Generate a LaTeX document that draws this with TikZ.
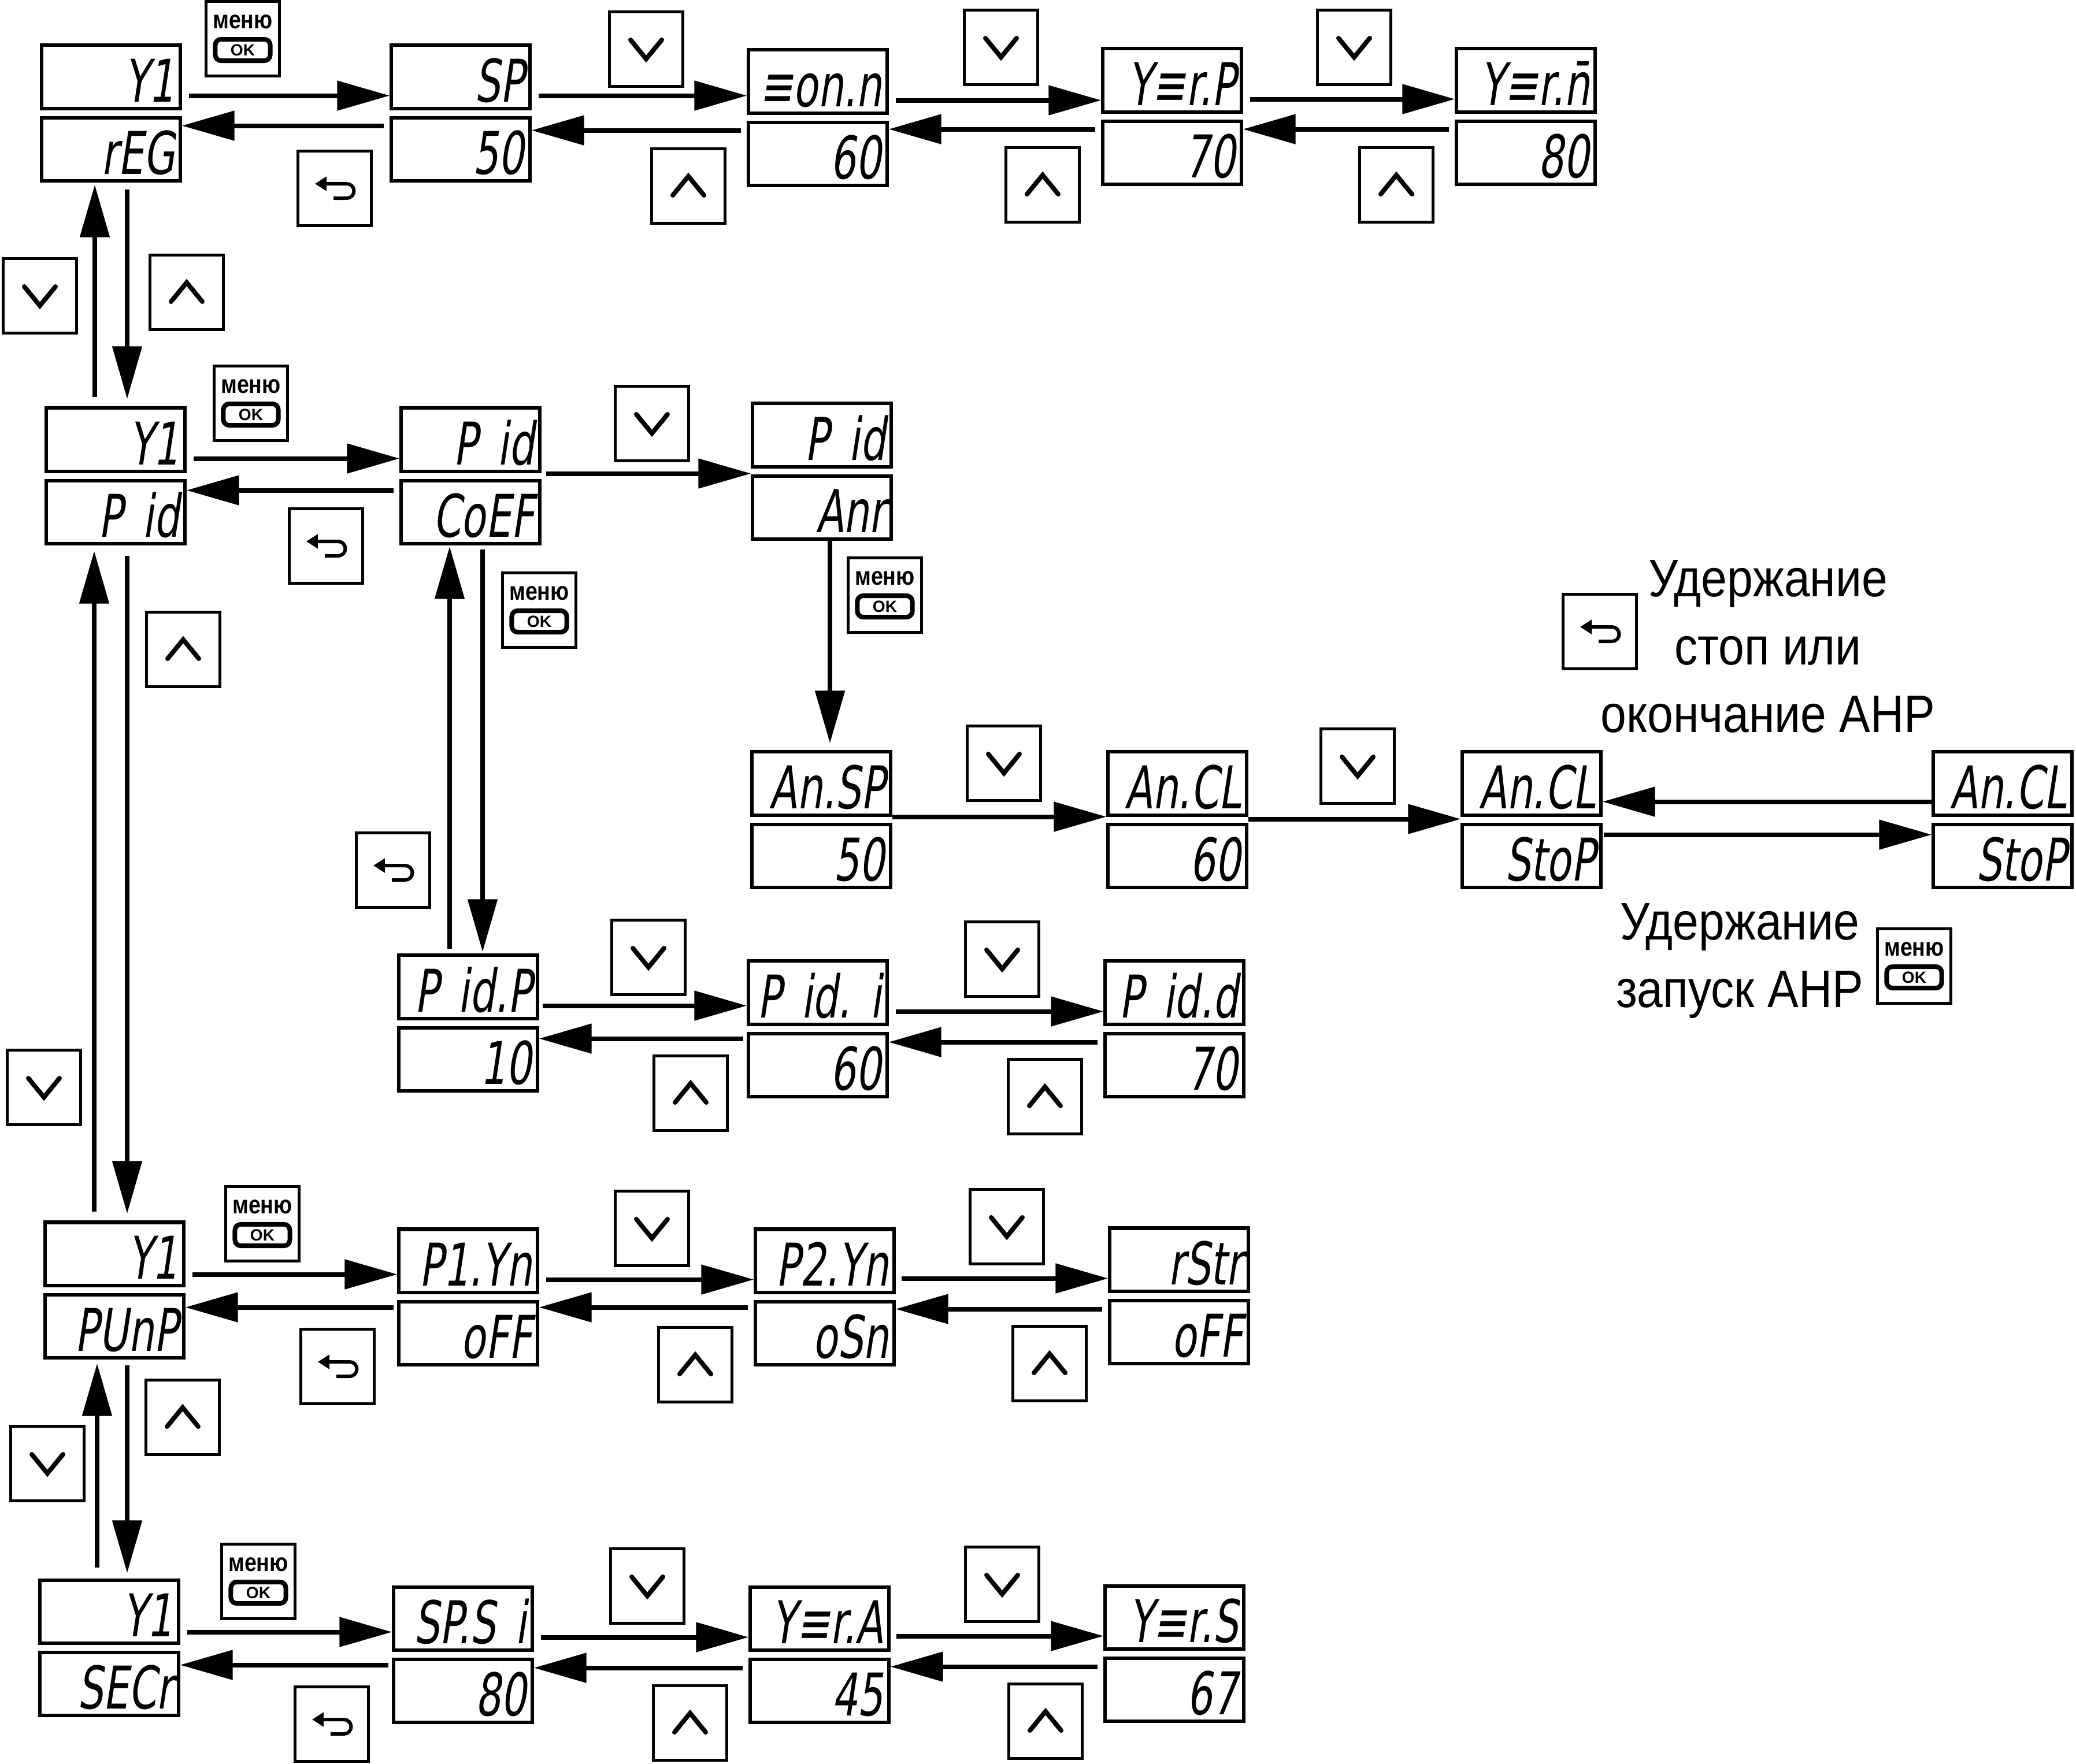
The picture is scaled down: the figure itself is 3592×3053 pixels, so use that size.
\documentclass[tikz,border=0pt]{standalone}
\usepackage{fontspec}
\usepackage{tikz}
\usetikzlibrary{arrows.meta}
\usetikzlibrary{positioning}
\newfontfamily\segfont[FakeStretch=0.68,FakeSlant=0.15]{DejaVu Sans}
\newfontfamily\narrowfont[FakeStretch=0.88]{Liberation Sans}
\newfontfamily\menufont[FakeStretch=0.85]{Liberation Sans}
\newfontfamily\okfont{Liberation Sans}

\begin{document}
\begin{tikzpicture}[x=0.01cm, y=-0.01cm]

  \tikzset{disp/.style = {draw, line width=0.06cm, text width=2.2cm, align=right, minimum height=1.09cm, inner xsep=0.095cm, inner ysep=0.05cm, text height=0.87cm, text depth=0cm, font=\segfont\fontsize{29}{30}\selectfont}}
  \tikzset{arr/.style = {-{Triangle[length=0.91cm,width=0.5cm]}, line width=0.08cm}}
  \tikzset{btn/.style = {draw, line width=0.045cm, minimum width=1.27cm, minimum height=1.29cm, inner sep=0pt}}
  \tikzset{dnbtn/.style = {btn, path picture={\draw[line width=0.08cm, line cap=round, shift={(path picture bounding box.center)}] (-0.27cm,0.16cm) -- (0cm,-0.17cm) -- (0.27cm,0.16cm);}}}
  \tikzset{upbtn/.style = {btn, path picture={\draw[line width=0.08cm, line cap=round, shift={(path picture bounding box.center)}] (-0.27cm,-0.16cm) -- (0cm,0.17cm) -- (0.27cm,-0.16cm);}}}
  \tikzset{bkbtn/.style = {btn, path picture={\draw[line width=0.06cm, -{Triangle[length=0.2cm,width=0.24cm]}, shift={(path picture bounding box.center)}] (-0.02cm,-0.17cm) -- (0.21cm,-0.17cm) arc[start angle=-90, end angle=90, radius=0.125cm] -- (-0.34cm,0.08cm);}}}
  \tikzset{menutxt/.style = {inner sep=0pt, font=\menufont\bfseries\fontsize{12.6}{13}\selectfont}}
  \tikzset{okpill/.style = {draw, line width=0.08cm, rounded corners=0.1cm, minimum width=0.95cm, minimum height=0.37cm, inner sep=0pt, font=\okfont\bfseries\fontsize{8}{9}\selectfont}}
  \tikzset{capt/.style = {align=center, inner sep=0pt, font=\narrowfont\fontsize{26}{33.3}\selectfont}}

  \useasboundingbox (0,0) rectangle (3592,3053);

  % displays, row 1
  \node[disp] (a1t) at (192,133) {Y1};
  \node[disp, below=0.1cm of a1t] (a1b) {rEG};
  \node[disp] (a2t) at (797,133) {SP};
  \node[disp, below=0.1cm of a2t] (a2b) {50};
  \node[disp] (a3t) at (1415,141) {≡on.n};
  \node[disp, below=0.1cm of a3t] (a3b) {60};
  \node[disp] (a4t) at (2028,139) {Y≡r.P};
  \node[disp, below=0.1cm of a4t] (a4b) {70};
  \node[disp] (a5t) at (2640,139) {Y≡r.n̄};
  \node[disp, below=0.1cm of a5t] (a5b) {80};

  % displays, row 2
  \node[disp] (b1t) at (200,761) {Y1};
  \node[disp, below=0.1cm of b1t] (b1b) {P~id};
  \node[disp] (b2t) at (814,761) {P~id};
  \node[disp, below=0.1cm of b2t] (b2b) {CoEF};
  \node[disp] (b3t) at (1422,753) {P~id};
  \node[disp, below=0.1cm of b3t] (b3b) {Anr};

  % displays, autotuning
  \node[disp] (c1t) at (1421,1356) {An.SP};
  \node[disp, below=0.1cm of c1t] (c1b) {50};
  \node[disp] (c2t) at (2037,1356) {An.CL};
  \node[disp, below=0.1cm of c2t] (c2b) {60};
  \node[disp] (c3t) at (2650,1356) {An.CL};
  \node[disp, below=0.1cm of c3t] (c3b) {StoP};
  \node[disp] (c4t) at (3465,1356) {An.CL};
  \node[disp, below=0.1cm of c4t] (c4b) {StoP};

  % displays, coefficients
  \node[disp] (d1t) at (810,1708) {P~id.P};
  \node[disp, below=0.1cm of d1t] (d1b) {10};
  \node[disp] (d2t) at (1415,1718) {P~id.~i};
  \node[disp, below=0.1cm of d2t] (d2b) {60};
  \node[disp] (d3t) at (2032,1718) {P~id.d};
  \node[disp, below=0.1cm of d3t] (d3b) {70};

  % displays, pump
  \node[disp] (e1t) at (198,2170) {Y1};
  \node[disp, below=0.1cm of e1t] (e1b) {PUnP};
  \node[disp] (e2t) at (810,2182) {P1.Yn};
  \node[disp, below=0.1cm of e2t] (e2b) {oFF};
  \node[disp] (e3t) at (1427,2182) {P2.Yn};
  \node[disp, below=0.1cm of e3t] (e3b) {oSn};
  \node[disp] (e4t) at (2040,2180) {rStr};
  \node[disp, below=0.1cm of e4t] (e4b) {oFF};

  % displays, security
  \node[disp] (f1t) at (189,2789) {Y1};
  \node[disp, below=0.1cm of f1t] (f1b) {SECr};
  \node[disp] (f2t) at (801,2801) {SP.S~i};
  \node[disp, below=0.1cm of f2t] (f2b) {80};
  \node[disp] (f3t) at (1418,2801) {Y≡r.A};
  \node[disp, below=0.1cm of f3t] (f3b) {45};
  \node[disp] (f4t) at (2032,2799) {Y≡r.S};
  \node[disp, below=0.1cm of f4t] (f4b) {67};

  % buttons
  \node[btn] (mA) at (420,67) {};
  \node[menutxt] (mAt) at ([yshift=0.295cm]mA.center) {меню};
  \node[okpill] (mAk) at ([yshift=-0.195cm]mA.center) {OK};
  \node[bkbtn] (kA) at (579,326) {};
  \node[dnbtn] (dA1) at (1118,85) {};
  \node[dnbtn] (dA2) at (1732,82) {};
  \node[dnbtn] (dA3) at (2343,82) {};
  \node[upbtn] (uA1) at (1191,322) {};
  \node[upbtn] (uA2) at (1804,320) {};
  \node[upbtn] (uA3) at (2416,320) {};

  \node[dnbtn] (dL1) at (69,512) {};
  \node[upbtn] (uL1) at (323,506) {};
  \node[upbtn] (uL2) at (317,1124) {};
  \node[dnbtn] (dL2) at (76,1882) {};
  \node[upbtn] (uL3) at (316,2453) {};
  \node[dnbtn] (dL3) at (82,2533) {};

  \node[btn] (mB) at (434,698) {};
  \node[menutxt] (mBt) at ([yshift=0.295cm]mB.center) {меню};
  \node[okpill] (mBk) at ([yshift=-0.195cm]mB.center) {OK};
  \node[bkbtn] (kB) at (564,945) {};
  \node[dnbtn] (dB1) at (1128,733) {};

  \node[bkbtn] (kM) at (680,1506) {};
  \node[btn] (mM) at (933,1056) {};
  \node[menutxt] (mMt) at ([yshift=0.295cm]mM.center) {меню};
  \node[okpill] (mMk) at ([yshift=-0.195cm]mM.center) {OK};
  \node[btn] (mN) at (1531,1030) {};
  \node[menutxt] (mNt) at ([yshift=0.295cm]mN.center) {меню};
  \node[okpill] (mNk) at ([yshift=-0.195cm]mN.center) {OK};

  \node[dnbtn] (dC1) at (1737,1321) {};
  \node[dnbtn] (dC2) at (2349,1326) {};
  \node[bkbtn] (kT) at (2768,1093) {};
  \node[btn] (mT) at (3312,1672) {};
  \node[menutxt] (mTt) at ([yshift=0.295cm]mT.center) {меню};
  \node[okpill] (mTk) at ([yshift=-0.195cm]mT.center) {OK};

  \node[dnbtn] (dD1) at (1122,1657) {};
  \node[dnbtn] (dD2) at (1734,1660) {};
  \node[upbtn] (uD1) at (1195,1892) {};
  \node[upbtn] (uD2) at (1808,1898) {};

  \node[btn] (mE) at (454,2118) {};
  \node[menutxt] (mEt) at ([yshift=0.295cm]mE.center) {меню};
  \node[okpill] (mEk) at ([yshift=-0.195cm]mE.center) {OK};
  \node[bkbtn] (kE) at (584,2365) {};
  \node[dnbtn] (dE1) at (1128,2126) {};
  \node[dnbtn] (dE2) at (1742,2123) {};
  \node[upbtn] (uE1) at (1203,2362) {};
  \node[upbtn] (uE2) at (1816,2360) {};

  \node[btn] (mF) at (447,2737) {};
  \node[menutxt] (mFt) at ([yshift=0.295cm]mF.center) {меню};
  \node[okpill] (mFk) at ([yshift=-0.195cm]mF.center) {OK};
  \node[bkbtn] (kF) at (574,2984) {};
  \node[dnbtn] (dF1) at (1120,2745) {};
  \node[dnbtn] (dF2) at (1734,2742) {};
  \node[upbtn] (uF1) at (1194,2982) {};
  \node[upbtn] (uF2) at (1809,2979) {};

  % captions
  \node[capt] (t1) at (3059,1119) {Удержание\\стоп или\\окончание АНР};
  \node[capt] (t2) at (3010,1663) {Удержание\\запуск АНР};

  % row 1 arrows
  \draw[arr] ([xshift=0.12cm,yshift=0.25cm]a1t.south east) coordinate (p) -- (a2t.west |- p);
  \draw[arr] ([xshift=0.12cm,yshift=0.25cm]a2t.south east) coordinate (p) -- (a3t.west |- p);
  \draw[arr] ([xshift=0.12cm,yshift=0.25cm]a3t.south east) coordinate (p) -- (a4t.west |- p);
  \draw[arr] ([xshift=0.12cm,yshift=0.25cm]a4t.south east) coordinate (p) -- (a5t.west |- p);
  \draw[arr] ([xshift=-0.1cm,yshift=-0.17cm]a2b.north west) coordinate (p) -- (a1b.east |- p);
  \draw[arr] ([xshift=-0.1cm,yshift=-0.17cm]a3b.north west) coordinate (p) -- (a2b.east |- p);
  \draw[arr] ([xshift=-0.1cm,yshift=-0.17cm]a4b.north west) coordinate (p) -- (a3b.east |- p);
  \draw[arr] ([xshift=-0.1cm,yshift=-0.17cm]a5b.north west) coordinate (p) -- (a4b.east |- p);

  % row 2 arrows
  \draw[arr] ([xshift=0.12cm,yshift=0.25cm]b1t.south east) coordinate (p) -- (b2t.west |- p);
  \draw[arr] ([xshift=-0.1cm,yshift=-0.2cm]b2b.north west) coordinate (p) -- (b1b.east |- p);
  \draw[arr] ([xshift=0.08cm,yshift=-0.01cm]b2t.south east) coordinate (p) -- (b3t.west |- p);
  \draw[arr] ([xshift=0.14cm]b3b.south) -- ([xshift=0.14cm,yshift=0.12cm]b3b.south |- c1t.north);

  % autotuning arrows
  \draw[arr] (c1t.south east) coordinate (p) -- (c2t.west |- p);
  \draw[arr] ([yshift=-0.04cm]c2t.south east) coordinate (p) -- (c3t.west |- p);
  \draw[arr] ([yshift=0.26cm]c4t.south west) coordinate (p) -- (c3t.east |- p);
  \draw[arr] ([xshift=0.02cm,yshift=-0.21cm]c3b.north east) coordinate (p) -- (c4b.west |- p);

  % coefficient arrows
  \draw[arr] ([xshift=0.06cm,yshift=0.25cm]d1t.south east) coordinate (p) -- (d2t.west |- p);
  \draw[arr] ([xshift=0.12cm,yshift=0.25cm]d2t.south east) coordinate (p) -- (d3t.west |- p);
  \draw[arr] ([xshift=-0.06cm,yshift=-0.12cm]d2b.north west) coordinate (p) -- (d1b.east |- p);
  \draw[arr] ([xshift=-0.1cm,yshift=-0.18cm]d3b.north west) coordinate (p) -- (d2b.east |- p);

  % pump arrows
  \draw[arr] ([xshift=0.12cm,yshift=0.22cm]e1t.south east) coordinate (p) -- (e2t.west |- p);
  \draw[arr] ([xshift=0.12cm,yshift=0.25cm]e2t.south east) coordinate (p) -- (e3t.west |- p);
  \draw[arr] ([xshift=0.1cm,yshift=0.27cm]e3t.south east) coordinate (p) -- (e4t.west |- p);
  \draw[arr] ([xshift=-0.06cm,yshift=-0.13cm]e2b.north west) coordinate (p) -- (e1b.east |- p);
  \draw[arr] ([xshift=-0.1cm,yshift=-0.13cm]e3b.north west) coordinate (p) -- (e2b.east |- p);
  \draw[arr] ([xshift=-0.1cm,yshift=-0.18cm]e4b.north west) coordinate (p) -- (e3b.east |- p);

  % security arrows
  \draw[arr] ([xshift=0.12cm,yshift=0.22cm]f1t.south east) coordinate (p) -- (f2t.west |- p);
  \draw[arr] ([xshift=0.12cm,yshift=0.25cm]f2t.south east) coordinate (p) -- (f3t.west |- p);
  \draw[arr] ([xshift=0.1cm,yshift=0.27cm]f3t.south east) coordinate (p) -- (f4t.west |- p);
  \draw[arr] ([xshift=-0.06cm,yshift=-0.13cm]f2b.north west) coordinate (p) -- (f1b.east |- p);
  \draw[arr] ([xshift=-0.1cm,yshift=-0.18cm]f3b.north west) coordinate (p) -- (f2b.east |- p);
  \draw[arr] ([xshift=-0.1cm,yshift=-0.18cm]f4b.north west) coordinate (p) -- (f3b.east |- p);

  % vertical arrows
  \draw[arr] ([xshift=-0.28cm,yshift=0.16cm]a1b.south |- b1t.north) -- ([xshift=-0.28cm,yshift=-0.04cm]a1b.south);
  \draw[arr] ([xshift=0.28cm,yshift=-0.12cm]a1b.south) -- ([xshift=0.28cm,yshift=0.13cm]a1b.south |- b1t.north);
  \draw[arr] ([xshift=-0.37cm,yshift=0.15cm]b1b.south |- e1t.north) -- ([xshift=-0.37cm,yshift=-0.1cm]b1b.south);
  \draw[arr] ([xshift=0.2cm,yshift=-0.18cm]b1b.south) -- ([xshift=0.2cm,yshift=0.12cm]b1b.south |- e1t.north);
  \draw[arr] ([xshift=-0.3cm,yshift=0.18cm]e1b.south |- f1t.north) -- ([xshift=-0.3cm,yshift=-0.07cm]e1b.south);
  \draw[arr] ([xshift=0.22cm,yshift=-0.1cm]e1b.south) -- ([xshift=0.22cm,yshift=0.09cm]e1b.south |- f1t.north);
  \draw[arr] ([xshift=-0.36cm,yshift=0.08cm]b2b.south |- d1t.north) -- ([xshift=-0.36cm,yshift=-0.02cm]b2b.south);
  \draw[arr] ([xshift=0.21cm,yshift=-0.07cm]b2b.south) -- ([xshift=0.21cm,yshift=0.03cm]b2b.south |- d1t.north);
\end{tikzpicture}
\end{document}
